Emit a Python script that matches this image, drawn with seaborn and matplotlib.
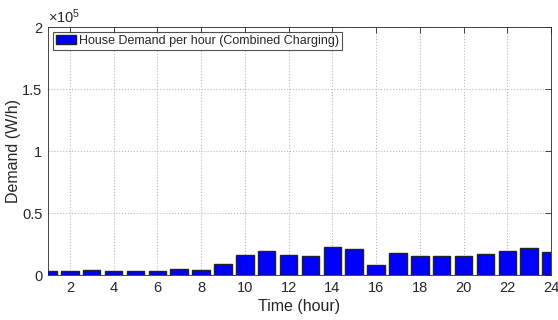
import matplotlib
matplotlib.use("Agg")
import matplotlib.pyplot as plt
import seaborn as sns
import pandas as pd
import numpy as np

hours = list(range(1, 25))
demand = [3200, 3600, 4000, 3600, 3500, 3100, 4800, 4000, 9000, 16000, 19000, 16300,
          15000, 22200, 20600, 8000, 17700, 15500, 15500, 15000, 16600, 19500, 21400, 18700]
xticks = [2, 4, 6, 8, 10, 12, 14, 16, 18, 20, 22, 24]
yticks = [0, 50000, 100000, 150000, 200000]
ytick_labels = ['0', '0.5', '1', '1.5', '2']
series_label = 'House Demand per hour (Combined Charging)'

sns.set_style("white")
plt.rcParams['font.family'] = ['Liberation Sans', 'DejaVu Sans']
plt.rcParams['mathtext.fontset'] = 'custom'
plt.rcParams['mathtext.rm'] = 'Liberation Sans'
plt.rcParams['mathtext.it'] = 'Liberation Sans'

df = pd.DataFrame({'hour': hours, 'demand': demand})

fig = plt.figure(figsize=(5.58, 3.2), dpi=100)
ax = fig.add_axes([0.086, 0.1406, 0.9015, 0.775])

sns.barplot(data=df, x='hour', y='demand', native_scale=True, width=0.8,
            color='#0000FF', saturation=1, edgecolor='#222222', linewidth=1.0,
            label=series_label, ax=ax, zorder=3)

ax.set_xlim(1, 24)
ax.set_ylim(0, 200000)
ax.set_xticks(xticks)
ax.set_xticklabels([str(t) for t in xticks])
ax.set_yticks(yticks)
ax.set_yticklabels(ytick_labels)
ax.grid(True, linestyle=':', color='#b8b8b8', linewidth=0.8, zorder=0)
ax.set_axisbelow(True)
ax.tick_params(direction='in', top=True, right=True, length=4, width=0.6,
               labelsize=10.5, colors='#262626', pad=4)
for s in ax.spines.values():
    s.set_visible(True)
    s.set_color('#262626')
    s.set_linewidth(0.6)

ax.set_xlabel('Time (hour)', fontsize=11.5, labelpad=3)
ax.set_ylabel('Demand (W/h)', fontsize=11.5)
ax.yaxis.set_label_coords(-0.053, 0.5)

ax.text(0.0, 1.005, r'$\times10^{5}$', transform=ax.transAxes, ha='left', va='bottom',
        fontsize=10.5, color='#262626')

leg = ax.legend(loc='upper left', fontsize=9, frameon=True, fancybox=False,
                borderpad=0.25, handlelength=1.6, handletextpad=0.2,
                borderaxespad=0.4)
leg.get_frame().set_edgecolor('#262626')
leg.get_frame().set_linewidth(0.8)

fig.savefig('out.png', dpi=100)
